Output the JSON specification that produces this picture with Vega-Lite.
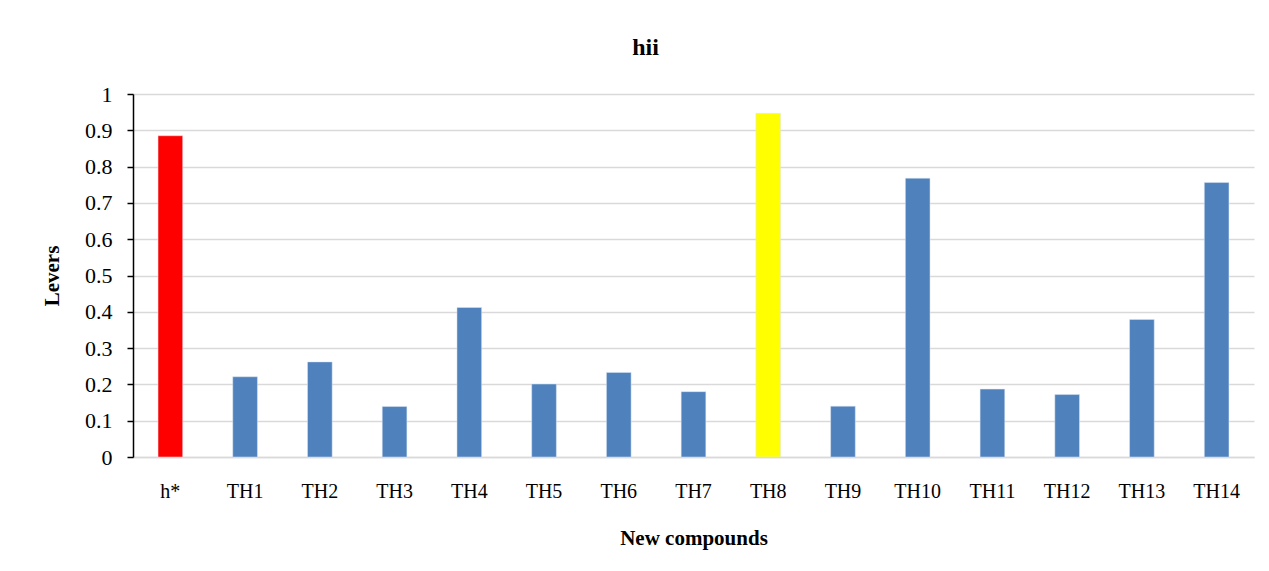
{
  "$schema": "https://vega.github.io/schema/vega-lite/v6.json",
  "autosize": "none",
  "width": 1121,
  "height": 363,
  "padding": {"left": 133, "top": 94, "right": 15, "bottom": 114},
  "background": "white",
  "config": {
    "view": {"stroke": null},
    "font": "Liberation Serif",
    "axis": {"labelFont": "Liberation Serif", "titleFont": "Liberation Serif", "labelColor": "black", "titleColor": "black"}
  },
  "title": {"text": "hii", "font": "Liberation Serif", "fontSize": 24, "fontWeight": "bold", "color": "black", "anchor": "middle", "dx": -48, "offset": 23},
  "data": {
    "values": [
      {"compound": "h*", "lever": 0.885, "group": "ref"},
      {"compound": "TH1", "lever": 0.221, "group": "normal"},
      {"compound": "TH2", "lever": 0.262, "group": "normal"},
      {"compound": "TH3", "lever": 0.139, "group": "normal"},
      {"compound": "TH4", "lever": 0.412, "group": "normal"},
      {"compound": "TH5", "lever": 0.201, "group": "normal"},
      {"compound": "TH6", "lever": 0.233, "group": "normal"},
      {"compound": "TH7", "lever": 0.180, "group": "normal"},
      {"compound": "TH8", "lever": 0.947, "group": "high"},
      {"compound": "TH9", "lever": 0.140, "group": "normal"},
      {"compound": "TH10", "lever": 0.768, "group": "normal"},
      {"compound": "TH11", "lever": 0.187, "group": "normal"},
      {"compound": "TH12", "lever": 0.172, "group": "normal"},
      {"compound": "TH13", "lever": 0.379, "group": "normal"},
      {"compound": "TH14", "lever": 0.756, "group": "normal"}
    ]
  },
  "mark": {"type": "bar", "stroke": "#dde6f2", "strokeWidth": 0.5},
  "encoding": {
    "x": {
      "field": "compound", "type": "nominal", "sort": null,
      "scale": {"paddingInner": 0.67, "paddingOuter": 0.335},
      "axis": {
        "title": "New compounds", "titleFontSize": 21, "titleFontWeight": "bold", "titlePadding": 26,
        "labelAngle": 0, "labelFontSize": 20, "labelPadding": 24,
        "ticks": false, "domainColor": "#d9d9d9", "domainWidth": 1.5, "grid": false
      }
    },
    "y": {
      "field": "lever", "type": "quantitative",
      "scale": {"domain": [0, 1], "nice": false},
      "axis": {
        "title": "Levers", "titleFontSize": 21, "titleFontWeight": "bold", "titlePadding": 22,
        "values": [0, 0.1, 0.2, 0.3, 0.4, 0.5, 0.6, 0.7, 0.8, 0.9, 1],
        "labelExpr": "datum.value == 0 ? '0' : datum.value == 1 ? '1' : format(datum.value, '.1f')",
        "labelFontSize": 22, "labelPadding": 15,
        "domainColor": "black", "domainWidth": 1.5,
        "tickColor": "black", "tickSize": 6, "tickWidth": 1.5,
        "gridColor": "#d9d9d9", "gridWidth": 1.5
      }
    },
    "color": {
      "field": "group", "type": "nominal",
      "scale": {"domain": ["ref", "normal", "high"], "range": ["#ff0000", "#4f81bd", "#ffff00"]},
      "legend": null
    }
  }
}
